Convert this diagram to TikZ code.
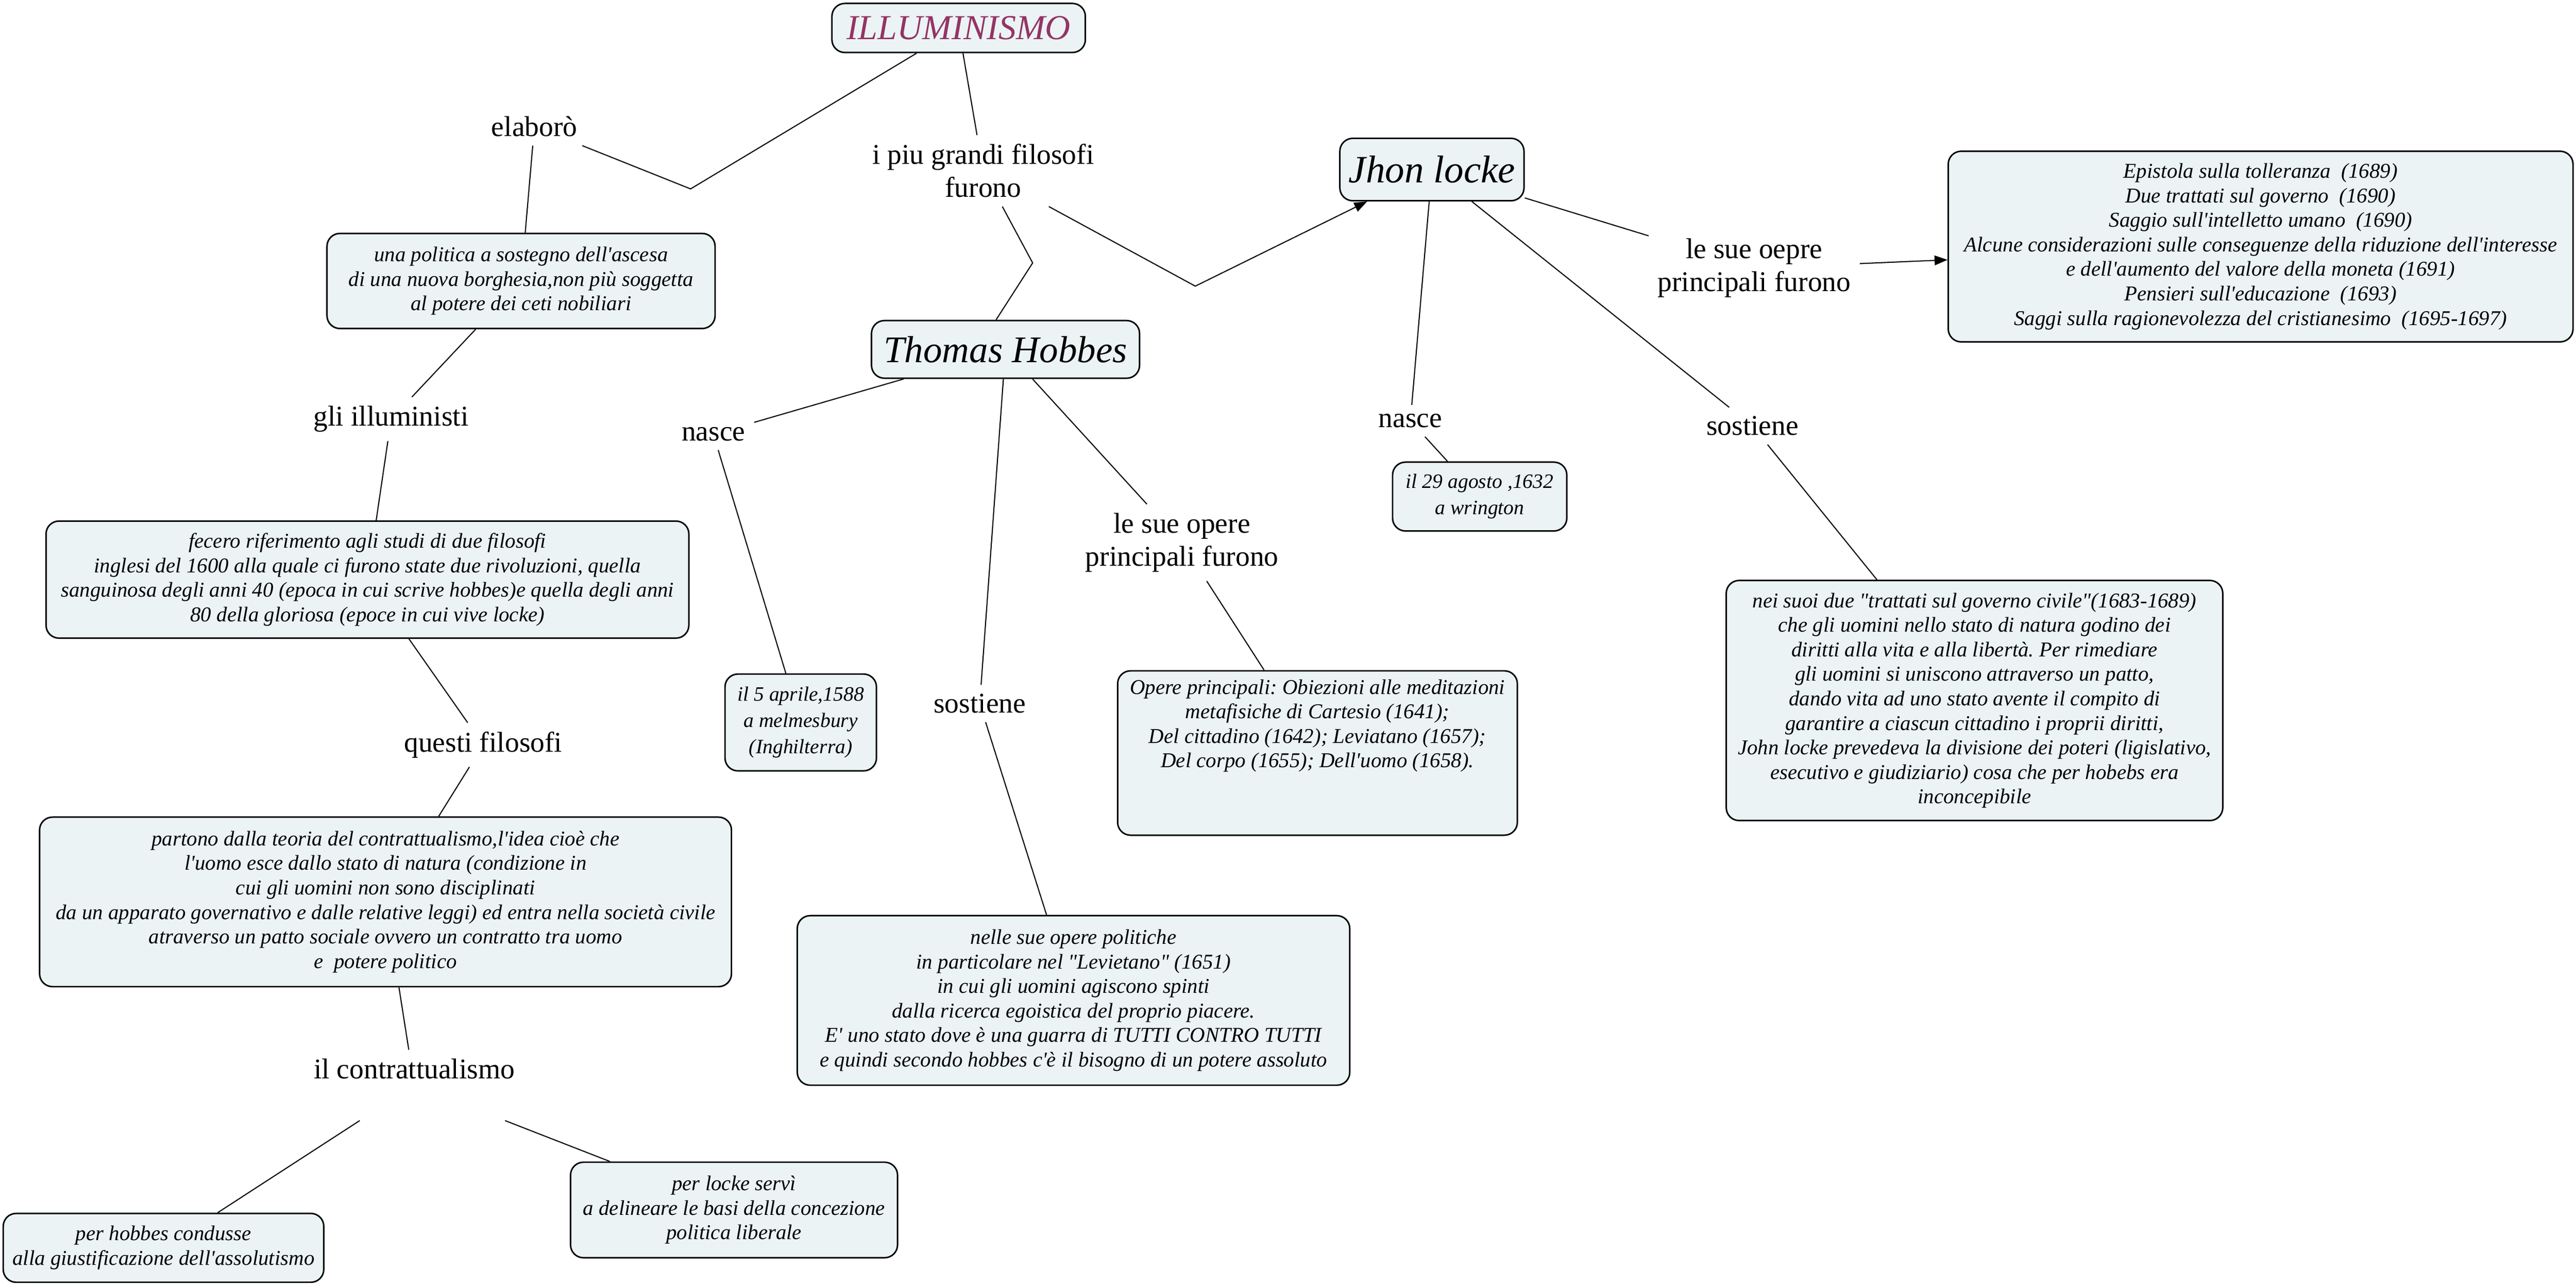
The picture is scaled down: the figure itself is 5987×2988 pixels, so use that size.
\documentclass[tikz,border=0pt]{standalone}
\usepackage{fontspec}
\setmainfont{Liberation Serif}[Ligatures=TeXOff]
\usetikzlibrary{arrows.meta,calc}
\definecolor{boxfill}{HTML}{EBF3F5}
\definecolor{titlepurple}{HTML}{943464}
\frenchspacing
\begin{document}
\begin{tikzpicture}[x=0.2pt,y=-0.2pt,
  box/.style={draw=black, line width=0.7pt, fill=boxfill, rounded corners=6pt, inner sep=0pt, align=center, font=\fontsize{9.8}{11.4}\selectfont\itshape},
  smallbox/.style={box, font=\fontsize{9.5}{12.2}\selectfont\itshape},
  titlebox/.style={box, font=\fontsize{17.5}{20}\selectfont\itshape},
  lbl/.style={inner sep=4pt, align=center, font=\fontsize{13.3}{15.3}\selectfont},
  conn/.style={draw=black, line width=0.5pt},
  arr/.style={conn, -{Triangle[length=6pt,width=4.5pt]}}
]
\fill[white] (0,0) rectangle (5987,2988);
\useasboundingbox (0,0) rectangle (5987,2988);

% ---- main boxes ----
\node[box, minimum width=117.8pt, minimum height=22.8pt, text=titlepurple, font=\fontsize{16.3}{18}\selectfont\itshape] (ill) at (2228,65) {ILLUMINISMO};
\node[titlebox, minimum width=124.6pt, minimum height=26.8pt] (hob) at (2337,812) {Thomas Hobbes};
\node[titlebox, minimum width=85.6pt, minimum height=29pt, font=\fontsize{18}{20}\selectfont\itshape] (locke) at (3328,394) {Jhon locke};

\node[box, minimum width=290.4pt, minimum height=88.6pt] (lworks) at (5254,573) {Epistola sulla tolleranza\ \ (1689)\\Due trattati sul governo\ \ (1690)\\Saggio sull'intelletto umano\ \ (1690)\\Alcune considerazioni sulle conseguenze della riduzione dell'interesse\\e dell'aumento del valore della moneta (1691)\\Pensieri sull'educazione\ \ (1693)\\Saggi sulla ragionevolezza del cristianesimo\ \ (1695-1697)};

\node[smallbox, minimum width=81pt, minimum height=32pt] (ago) at (3439,1154) {il 29 agosto ,1632\\a wrington};

\node[box, minimum width=230.8pt, minimum height=111.6pt] (lsost) at (4589,1628) {nei suoi due "trattati sul governo civile"(1683-1689)\\che gli uomini nello stato di natura godino dei\\diritti alla vita e alla libertà. Per rimediare\\gli uomini si uniscono attraverso un patto,\\dando vita ad uno stato avente il compito di\\garantire a ciascun cittadino i proprii diritti,\\John locke prevedeva la divisione dei poteri (ligislativo,\\esecutivo e giudiziario) cosa che per hobebs era\\inconcepibile};

\node[smallbox, minimum width=70.4pt, minimum height=45pt] (apr) at (1861,1679) {il 5 aprile,1588\\a melmesbury\\(Inghilterra)};

\node[box, minimum width=256.8pt, minimum height=78.8pt] (hsost) at (2495,2325) {nelle sue opere politiche\\in particolare nel "Levietano" (1651)\\in cui gli uomini agiscono spinti\\dalla ricerca egoistica del proprio piacere.\\E' uno stato dove è una guarra di TUTTI CONTRO TUTTI\\e quindi secondo hobbes c'è il bisogno di un potere assoluto};

\node[box, minimum width=185.8pt, minimum height=76.4pt] (hop) at (3062,1750) {\parbox[c][76.4pt][t]{184pt}{\centering\vspace*{4pt}Opere principali: Obiezioni alle meditazioni\\metafisiche di Cartesio (1641);\\Del cittadino (1642); Leviatano (1657);\\Del corpo (1655); Dell'uomo (1658).}};

\node[box, minimum width=180.4pt, minimum height=44.2pt] (pol) at (1211,653) {una politica a sostegno dell'ascesa\\di una nuova borghesia,non più soggetta\\al potere dei ceti nobiliari};

\node[box, minimum width=298.8pt, minimum height=54.4pt] (fec) at (854,1347) {fecero riferimento agli studi di due filosofi\\inglesi del 1600 alla quale ci furono state due rivoluzioni, quella\\sanguinosa degli anni 40 (epoca in cui scrive hobbes)e quella degli anni\\80 della gloriosa (epoce in cui vive locke)};

\node[box, minimum width=321.6pt, minimum height=78.8pt] (par) at (896,2096) {partono dalla teoria del contrattualismo,l'idea cioè che\\l'uomo esce dallo stato di natura (condizione in\\cui gli uomini non sono disciplinati\\da un apparato governativo e dalle relative leggi) ed entra nella società civile\\atraverso un patto sociale ovvero un contratto tra uomo\\e\ \ potere politico};

\node[box, minimum width=149pt, minimum height=32pt] (cond) at (380,2900) {per hobbes condusse\\alla giustificazione dell'assolutismo};

\node[box, minimum width=152pt, minimum height=44.4pt] (serv) at (1706,2812) {per locke servì\\a delineare le basi della concezione\\politica liberale};

% ---- linking phrases ----
\node[lbl] (elab) at (1242,294) {elaborò};
\node[lbl] (fil) at (2285,397) {i piu grandi filosofi\\furono};
\node[lbl] (lsue) at (4077,623) {le sue oepre\\principali furono};
\node[lbl] (nasL) at (3278,978) {nasce};
\node[lbl] (sosL) at (4073,990) {sostiene};
\node[lbl] (nasH) at (1658,1009) {nasce};
\node[lbl] (sosH) at (2277,1635) {sostiene};
\node[lbl] (lsueH) at (2747,1261) {le sue opere\\principali furono};
\node[lbl] (illu) at (909,974) {gli illuministi};
\node[lbl] (que) at (1123,1731) {questi filosofi};
\node[lbl] (con) at (963,2522) {il contrattualismo\\\mbox{}};

% ---- bends ----
\coordinate (b1) at (1605,439);
\coordinate (b2) at (2400,611);
\coordinate (b3) at (2778,665);

% ---- connectors ----
\draw[conn] (ill) -- (b1) -- (elab);
\draw[conn] (elab) -- (pol);
\draw[conn] (ill) -- (fil);
\draw[conn] (fil) -- (b2) -- ($(hob.north)+(-22,0)$);
\draw[arr] (fil) -- (b3) -- (locke);

\draw[conn] (locke) -- (lsue);
\draw[arr] (lsue) -- (lworks);
\draw[conn] (locke) -- (nasL);
\draw[conn] (nasL) -- (ago);
\draw[conn] (locke) -- (sosL);
\draw[conn] (sosL) -- (lsost);

\draw[conn] (hob) -- (nasH);
\draw[conn] (nasH) -- (apr);
\draw[conn] (hob) -- (sosH);
\draw[conn] (sosH) -- (hsost);
\draw[conn] (hob) -- (lsueH);
\draw[conn] (lsueH) -- (hop);

\draw[conn] (pol) -- (illu);
\draw[conn] (illu) -- (fec);
\draw[conn] (fec) -- (que);
\draw[conn] (que) -- (par);
\draw[conn] (par) -- (con);
\draw[conn] (con) -- (cond);
\draw[conn] (con) -- (serv);
\end{tikzpicture}
\end{document}
